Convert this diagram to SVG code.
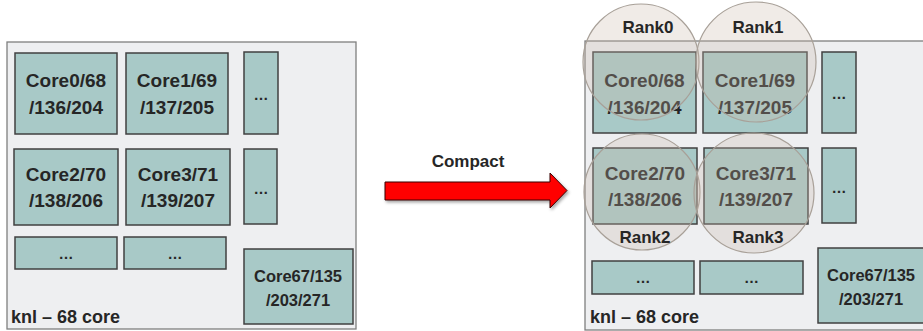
<svg xmlns="http://www.w3.org/2000/svg" width="923" height="331" viewBox="0 0 923 331">
<defs>
<filter id="sh" x="-10%" y="-10%" width="130%" height="140%">
<feDropShadow dx="1.5" dy="2" stdDeviation="1.5" flood-color="#000" flood-opacity="0.35"/>
</filter>
</defs>
<style>
.panel{fill:#eeeff1;stroke:#7f7f7f;stroke-width:1.3}
.box{fill:#a8c9c7;stroke:#404040;stroke-width:1.5}
.t{font-family:"Liberation Sans",Arial,sans-serif;font-weight:bold;fill:#262626;text-anchor:middle}
.big{font-size:19px}
.mid{font-size:16.5px}
.dots{font-size:15px}
.lbl{font-size:18px;text-anchor:start}
.rk{font-size:17px}
.ring{fill:#c8b8a8;fill-opacity:0.28;stroke:#a8a098;stroke-width:1.2}
</style>
<rect width="923" height="331" fill="#ffffff"/>

<g id="left-panel">
<rect class="panel" x="7" y="42" width="349" height="287"/>
<text class="t lbl" x="11" y="323">knl – 68 core</text>
</g>
<g id="L-core0"><rect class="box" x="15" y="53" width="102" height="81"/><text class="t big" x="66" y="87">Core0/68</text><text class="t big" x="66" y="114">/136/204</text></g>
<g id="L-core1"><rect class="box" x="126" y="53" width="102" height="81"/><text class="t big" x="177" y="87">Core1/69</text><text class="t big" x="177" y="114">/137/205</text></g>
<g id="L-dots1"><rect class="box" x="244" y="52" width="34" height="82"/><text class="t dots" x="261" y="100">…</text></g>
<g id="L-core2"><rect class="box" x="14" y="149" width="104" height="76"/><text class="t big" x="66" y="181">Core2/70</text><text class="t big" x="66" y="207">/138/206</text></g>
<g id="L-core3"><rect class="box" x="126" y="149" width="104" height="76"/><text class="t big" x="178" y="181">Core3/71</text><text class="t big" x="178" y="207">/139/207</text></g>
<g id="L-dots2"><rect class="box" x="244" y="149" width="33" height="75"/><text class="t dots" x="261" y="194">…</text></g>
<g id="L-dots3"><rect class="box" x="15" y="237" width="102" height="32"/><text class="t dots" x="66" y="259">…</text></g>
<g id="L-dots4"><rect class="box" x="124" y="237" width="102" height="32"/><text class="t dots" x="175" y="259">…</text></g>
<g id="L-core67"><rect class="box" x="244" y="249" width="109" height="75"/><text class="t mid" x="298" y="282">Core67/135</text><text class="t mid" x="298" y="306">/203/271</text></g>

<g id="connectors">
<g id="compact-arrow">
<polygon points="385,182 550,182 550,173 567,190.5 550,208 550,200 385,200" fill="#ff0000" stroke="#3a0000" stroke-width="1" filter="url(#sh)"/>
<text class="t rk" x="468" y="167">Compact</text>
</g>
</g>

<g id="right-panel">
<rect class="panel" x="585" y="41" width="345" height="289"/>
<text class="t lbl" x="590" y="323">knl – 68 core</text>
</g>
<g id="R-core0"><rect class="box" x="593" y="52" width="103" height="81"/><text class="t big" x="644.5" y="87">Core0/68</text><text class="t big" x="644.5" y="114">/136/204</text></g>
<g id="R-core1"><rect class="box" x="703" y="52" width="104" height="81"/><text class="t big" x="755" y="87">Core1/69</text><text class="t big" x="755" y="114">/137/205</text></g>
<g id="R-dots1"><rect class="box" x="822" y="52" width="34" height="81"/><text class="t dots" x="839" y="99">…</text></g>
<g id="R-core2"><rect class="box" x="593" y="148" width="104" height="76"/><text class="t big" x="645" y="180">Core2/70</text><text class="t big" x="645" y="206">/138/206</text></g>
<g id="R-core3"><rect class="box" x="704" y="148" width="104" height="76"/><text class="t big" x="756" y="180">Core3/71</text><text class="t big" x="756" y="206">/139/207</text></g>
<g id="R-dots2"><rect class="box" x="822" y="148" width="34" height="75"/><text class="t dots" x="839" y="193">…</text></g>
<g id="R-dots3"><rect class="box" x="592" y="261" width="102" height="33"/><text class="t dots" x="643" y="283">…</text></g>
<g id="R-dots4"><rect class="box" x="700" y="261" width="103" height="33"/><text class="t dots" x="751.5" y="283">…</text></g>
<g id="R-core67"><rect class="box" x="818" y="248" width="112" height="75"/><text class="t mid" x="871" y="281">Core67/135</text><text class="t mid" x="871" y="305">/203/271</text></g>

<g id="rank0"><circle class="ring" cx="641" cy="62" r="58"/><text class="t rk" x="648" y="33">Rank0</text></g>
<g id="rank1"><circle class="ring" cx="756" cy="62" r="60"/><text class="t rk" x="758" y="33">Rank1</text></g>
<g id="rank2"><circle class="ring" cx="642" cy="192" r="58"/><text class="t rk" x="645" y="243">Rank2</text></g>
<g id="rank3"><circle class="ring" cx="754" cy="193" r="60"/><text class="t rk" x="758" y="243">Rank3</text></g>
</svg>
